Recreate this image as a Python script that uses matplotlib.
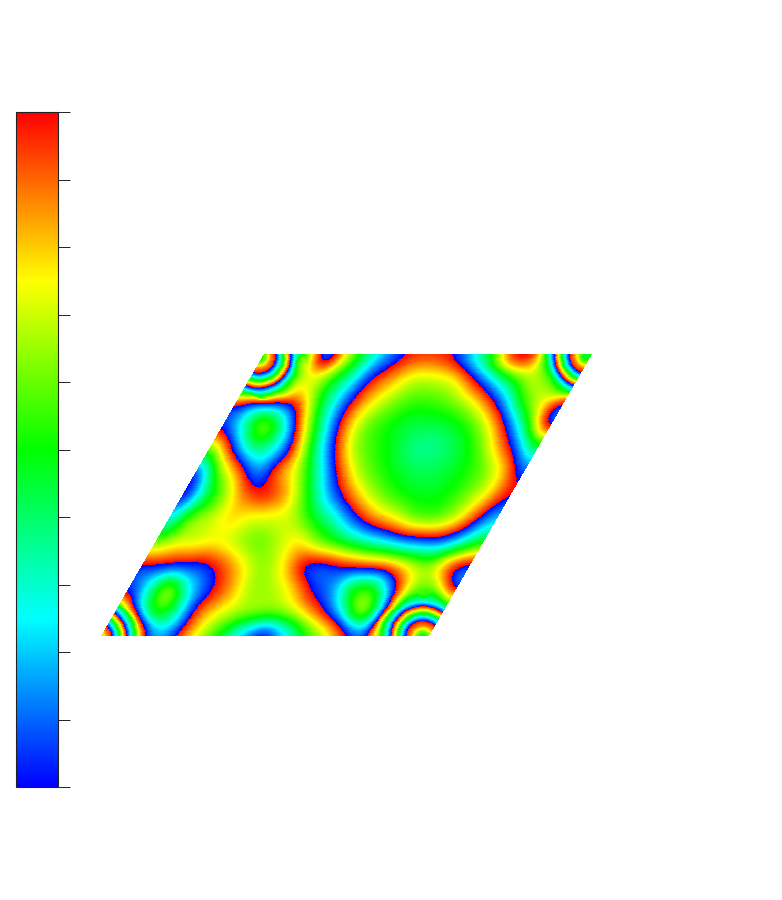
import numpy as np
import matplotlib
matplotlib.use("Agg")
import matplotlib.pyplot as plt
import matplotlib.tri as mtri
from matplotlib.colors import LinearSegmentedColormap, Normalize
from matplotlib.cm import ScalarMappable

nan = np.nan
# Unwrapped field values (colour = value mod 1), bottom row first
row_00 = [nan,nan,1.80,2.10,1.85,1.62,1.38,1.08,0.90,1.12,1.42,1.62,1.85,2.00,nan,nan,nan]
row_01 = [nan,2.02,2.50,2.35,1.93,1.75,1.65,1.60,1.60,1.72,1.93,2.20,2.65,2.15,nan,nan,nan]
row_02 = [1.95,2.30,2.65,2.25,2.03,1.85,1.66,1.66,1.78,2.03,2.15,2.50,2.50,2.03,1.62,1.60,2.12]
row_03 = [2.00,2.02,2.04,2.04,1.92,1.75,1.63,1.78,2.04,2.05,1.98,1.93,1.88,1.72,1.62,1.90,2.05]
row_04 = [1.58,1.70,1.72,1.75,1.68,1.60,1.68,1.78,1.62,1.50,1.38,1.28,1.17,1.12,1.12,1.30,1.52]
row_05 = [1.20,1.58,1.68,1.78,1.72,1.72,1.70,1.50,1.33,1.08,0.88,0.76,0.62,0.60,0.72,0.97,1.25]
row_06 = [0.92,1.35,1.62,1.88,1.98,1.85,1.55,1.22,0.95,0.72,0.58,0.50,0.48,0.52,0.63,0.80,1.05]
row_07 = [0.95,1.55,1.85,2.15,1.90,1.68,1.32,0.95,0.66,0.54,0.46,0.42,0.44,0.50,0.60,0.80,1.15]
row_08 = [1.50,1.97,2.35,2.32,2.00,1.48,1.05,0.68,0.55,0.47,0.37,0.37,0.43,0.55,0.80,1.10,1.50]
row_09 = [1.98,2.30,2.62,2.30,1.75,1.28,0.87,0.62,0.52,0.45,0.44,0.46,0.55,0.76,1.10,1.55,2.15]
row_10 = [1.90,1.95,1.96,1.90,1.52,1.20,0.90,0.72,0.60,0.55,0.58,0.67,0.85,1.15,1.55,1.75,2.00]
row_11 = [nan,nan,nan,1.72,1.55,1.30,1.00,0.85,0.72,0.72,0.78,1.04,1.32,1.58,1.70,nan,nan]
row_12 = [nan,nan,1.50,2.20,1.72,1.40,1.18,1.02,1.00,1.04,1.25,1.52,2.00,2.03,nan,nan,nan]
rows = [row_00,row_01,row_02,row_03,row_04,row_05,row_06,row_07,row_08,row_09,row_10,row_11,row_12]

# Ring profile around the four corner peaks: radius (px) and value
ring_r = [0, 6, 12, 17, 22, 27, 32, 37, 42]
ring_u = [-0.55, -0.42, -0.15, 0.0, 0.30, 0.65, 1.0, 1.30, 1.55]
ring_centres_x = [95, 423, 259, 587]
ring_centres_y = [638, 638, 356, 356]
ring_angles = np.deg2rad(np.arange(0, 360, 30))

colorbar_ticks = [0, .1, .2, .3, .4, .5, .6, .7, .8, .9, 1]
colours = ["#0000ff", "#00ffff", "#00ff00", "#ffff00", "#ff0000"]

# Parallelogram geometry in pixels
x_left, y_bot, y_top = 101.0, 636.0, 354.0
width, shift = 328.0, 163.0

def to_px(a, b):
    return x_left + width * a + shift * b, y_bot + (y_top - y_bot) * b

field = np.array(rows)
b_g, a_g = np.mgrid[0:1:field.shape[0]*1j, 0:1:field.shape[1]*1j]
gx, gy = to_px(a_g, b_g)
keep = ~np.isnan(field)
px = [gx[keep]]; py = [gy[keep]]; pu = [field[keep]]
for cx, cy in zip(ring_centres_x, ring_centres_y):
    px.append(np.array([cx])); py.append(np.array([cy])); pu.append(np.array([ring_u[0]]))
    for r, u in zip(ring_r[1:], ring_u[1:]):
        px.append(cx + r*np.cos(ring_angles))
        py.append(cy + r*np.sin(ring_angles))
        pu.append(np.full(ring_angles.shape, u))
px, py, pu = map(np.concatenate, (px, py, pu))

tri = mtri.Triangulation(px, py)
interp = mtri.CubicTriInterpolator(tri, pu, kind="geom")

na, nb = 328, 282
a_e = np.linspace(0.0005, 0.9995, na + 1)
b_e = np.linspace(0.0005, 0.9995, nb + 1)
A_e, B_e = np.meshgrid(a_e, b_e)
X_e, Y_e = to_px(A_e, B_e)
a_c = 0.5*(a_e[1:] + a_e[:-1]); b_c = 0.5*(b_e[1:] + b_e[:-1])
A_c, B_c = np.meshgrid(a_c, b_c)
X_c, Y_c = to_px(A_c, B_c)
Z = np.ma.filled(interp(X_c, Y_c), np.nan)

# Soften the facets of the sparse table away from the corner rings
def blur(arr, sigma=6.0):
    t = np.arange(-18, 19)
    k = np.exp(-0.5*(t/sigma)**2)
    ok = ~np.isnan(arr)
    v = np.where(ok, arr, 0.0)
    w = ok.astype(float)
    for axis in (0, 1):
        v = np.apply_along_axis(lambda m: np.convolve(m, k, mode="same"), axis, v)
        w = np.apply_along_axis(lambda m: np.convolve(m, k, mode="same"), axis, w)
    return v / np.maximum(w, 1e-9)

Zs = blur(Z)
dist = np.min([np.hypot(X_c - cx, Y_c - cy) for cx, cy in zip(ring_centres_x, ring_centres_y)], axis=0)
weight = np.clip((dist - 36.0) / 18.0, 0, 1)
Z = np.where(np.isnan(Z), Zs, (1 - weight) * Z + weight * Zs)

cmap = LinearSegmentedColormap.from_list("rb", colours, N=512)
norm = Normalize(0, 1)

W, H = 782, 900
fig = plt.figure(figsize=(W/100, H/100), dpi=100)
ax = fig.add_axes([0, 0, 1, 1])
ax.set_xlim(0, W); ax.set_ylim(H, 0); ax.axis("off")
ax.pcolormesh(X_e, Y_e, np.mod(Z, 1.0), cmap=cmap, norm=norm,
              shading="flat", antialiased=False, linewidth=0, rasterized=True)

cax = fig.add_axes([16/W, 1 - 787/H, 42/W, 675/H])
cb = fig.colorbar(ScalarMappable(norm=norm, cmap=cmap), cax=cax, ticks=colorbar_ticks)
cb.ax.tick_params(length=8.6, width=0.7, color="#222222", labelright=False, right=True)
cb.outline.set_linewidth(0.8)
cb.outline.set_edgecolor("#222222")

fig.savefig("out.png", dpi=100)
